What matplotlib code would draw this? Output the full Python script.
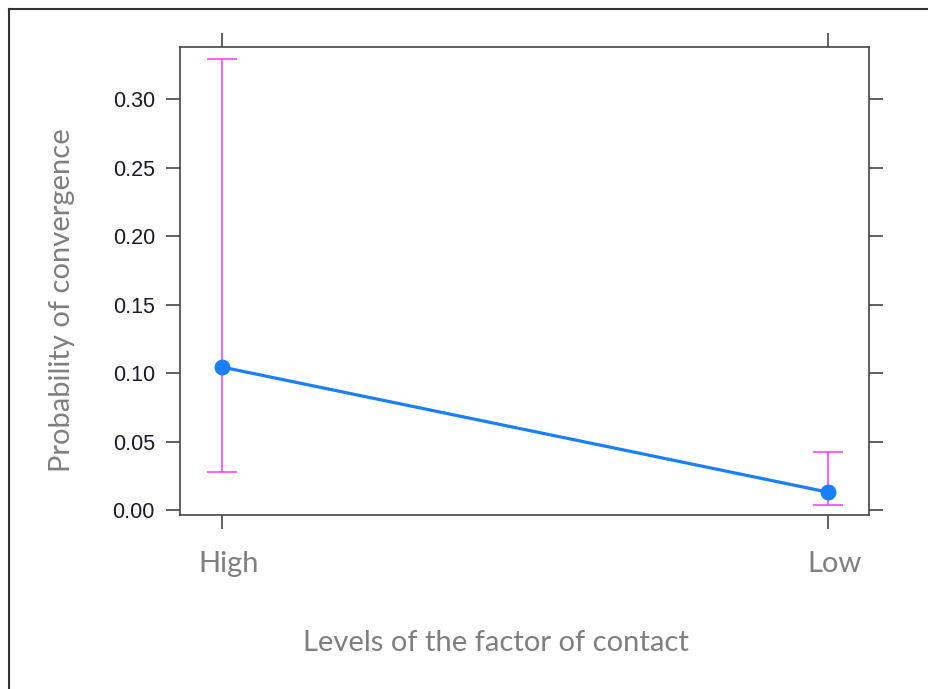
import numpy as np
import matplotlib
matplotlib.use("Agg")
import matplotlib.pyplot as plt
from matplotlib.lines import Line2D
from matplotlib.transforms import ScaledTranslation

# effect estimates for the contact factor
levels = ["High", "Low"]
prob = [0.1044, 0.0131]
lower = [0.0277, 0.0036]
upper = [0.3290, 0.0423]
yticks = [0.00, 0.05, 0.10, 0.15, 0.20, 0.25, 0.30]

W, H = 929, 689
fig = plt.figure(figsize=(W / 100, H / 100), dpi=100)
ax = fig.add_axes([180 / W, 1 - 515 / H, 689 / W, 468 / H])

x = np.arange(1, len(levels) + 1)
err = [np.array(prob) - np.array(lower), np.array(upper) - np.array(prob)]
ax.errorbar(x, prob, yerr=err, fmt="none", ecolor="#ff44ff", elinewidth=1.2,
            capsize=11, capthick=1.2, zorder=2)
ax.plot(x, prob, color="#1a7fff", lw=2.3, marker="o", ms=10.5, zorder=3)

ax.set_xlim(0.9307, 2.068)
ax.set_ylim(-0.0036, 0.338)
ax.set_xticks(x)
ax.set_xticklabels(levels)
ax.set_yticks(yticks)
ax.set_yticklabels([f"{v:.2f}" for v in yticks])

for s in ax.spines.values():
    s.set_color("#444444")
    s.set_linewidth(1.2)
ax.tick_params(axis="both", direction="out", length=10, width=1.2, color="#444444",
               top=True, right=True, labeltop=False, labelright=False)
ax.tick_params(axis="y", labelsize=15.5, labelcolor="#1a1a2a", pad=8)
ax.tick_params(axis="x", labelsize=21, labelcolor="#7f7f7f", pad=16)
shift = ScaledTranslation(7 / 100, 0, fig.dpi_scale_trans)
for t in ax.get_xticklabels():
    t.set_family(["Lato", "DejaVu Sans"])
    t.set_transform(t.get_transform() + shift)
for t in ax.get_yticklabels():
    t.set_family(["Liberation Sans", "DejaVu Sans"])

fig.text(496 / W, 1 - 643 / H, "Levels of the factor of contact", ha="center", va="center",
         fontsize=21, color="#7f7f7f", family=["Lato", "DejaVu Sans"])
fig.text(62 / W, 1 - 300 / H, "Probability of convergence", ha="center", va="center",
         rotation=90, fontsize=21, color="#7f7f7f", family=["Lato", "DejaVu Sans"])

# outer frame (left and top edges only)
fig.add_artist(Line2D([8.5 / W, 8.5 / W], [0, 1 - 8.5 / H], transform=fig.transFigure,
                      color="#333333", lw=1.5))
fig.add_artist(Line2D([8.5 / W, 1], [1 - 8.5 / H, 1 - 8.5 / H], transform=fig.transFigure,
                      color="#333333", lw=1.5))

fig.savefig("out.png", dpi=100)
